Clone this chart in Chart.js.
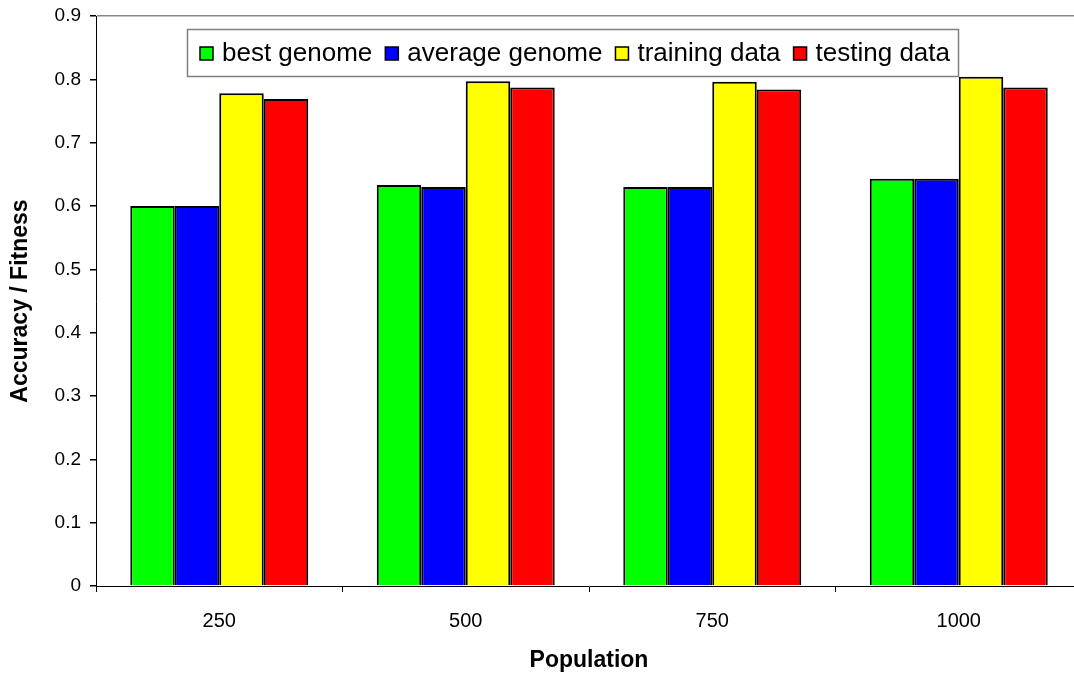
<!DOCTYPE html>
<html>
<head>
<meta charset="utf-8">
<script src="https://cdn.jsdelivr.net/npm/chart.js@4.4.1/dist/chart.umd.min.js"></script>
<style>
  html, body { margin: 0; padding: 0; background: #fff; }
  #frame { width: 1074px; height: 679px; overflow: hidden; position: relative; }
  #chart { position: absolute; left: 0; top: 0; }
</style>
</head>
<body>
<div id="frame"><canvas id="chart" width="1100" height="679"></canvas></div>
<script>
// Population sizes on the x axis
const populations = ['250', '500', '750', '1000'];
// Accuracy / fitness per population size
const bestGenome    = [0.600, 0.633, 0.630, 0.643];
const averageGenome = [0.600, 0.630, 0.630, 0.643];
const trainingData  = [0.778, 0.797, 0.796, 0.804];
const testingData   = [0.769, 0.787, 0.784, 0.787];
// Value axis labels
const yTickLabels = ['0', '0.1', '0.2', '0.3', '0.4', '0.5', '0.6', '0.7', '0.8', '0.9'];

const FONT = "'Liberation Sans', Arial, sans-serif";

// Boxed legend drawn inside the plot area, built from the datasets
const boxedLegend = {
  id: 'boxedLegend',
  afterDraw(chart, args, opts) {
    const ctx = chart.ctx;
    const x0 = opts.left, y0 = opts.top, w = opts.width, h = opts.height;
    ctx.save();
    ctx.fillStyle = '#ffffff';
    ctx.fillRect(x0, y0, w, h);
    ctx.strokeStyle = '#808080';
    ctx.lineWidth = 1.5;
    ctx.strokeRect(x0 + 0.5, y0 + 0.5, w, h);
    ctx.font = opts.fontSize + 'px ' + FONT;
    ctx.textBaseline = 'middle';
    ctx.fillStyle = '#000';
    const cy = y0 + h / 2 + 1;
    let x = x0 + opts.startPad;
    chart.data.datasets.forEach(ds => {
      const s = opts.box;
      ctx.fillStyle = ds.backgroundColor;
      ctx.fillRect(x, cy - s / 2, s, s);
      ctx.strokeStyle = '#000';
      ctx.lineWidth = 1.5;
      ctx.strokeRect(x, cy - s / 2, s, s);
      ctx.fillStyle = '#000';
      const tx = x + opts.textGap;
      ctx.fillText(ds.label, tx, cy);
      x = tx + ctx.measureText(ds.label).width + opts.itemGap;
    });
    ctx.restore();
  }
};

new Chart(document.getElementById('chart'), {
  type: 'bar',
  data: {
    labels: populations,
    datasets: [
      { label: 'best genome',    data: bestGenome,    backgroundColor: '#00ff00' },
      { label: 'average genome', data: averageGenome, backgroundColor: '#0000ff' },
      { label: 'training data',  data: trainingData,  backgroundColor: '#ffff00' },
      { label: 'testing data',   data: testingData,   backgroundColor: '#ff0000' }
    ]
  },
  options: {
    responsive: false,
    animation: false,
    devicePixelRatio: 1,
    layout: { padding: { left: 0, top: 16, right: 18, bottom: 0 } },
    datasets: {
      bar: {
        borderColor: '#000000',
        borderWidth: 2,
        barPercentage: 1.0,
        categoryPercentage: 0.722
      }
    },
    plugins: {
      legend: { display: false },
      tooltip: { enabled: false },
      boxedLegend: {
        left: 187, top: 29, width: 771, height: 47,
        fontSize: 26, box: 13, startPad: 13, textGap: 22, itemGap: 13
      }
    },
    scales: {
      x: {
        offset: true,
        grid: {
          offset: true,
          drawOnChartArea: false,
          tickLength: 6,
          tickColor: '#000',
          lineWidth: 1
        },
        border: { display: true, color: '#000', width: 1 },
        ticks: {
          color: '#000',
          padding: 17,
          font: { family: FONT, size: 20 },
          maxRotation: 0
        },
        title: {
          display: true,
          text: 'Population',
          color: '#000',
          font: { family: FONT, size: 23, weight: 'bold' },
          padding: { top: 0, bottom: 5 }
        },
        afterFit(scale) { scale.height = 93; }
      },
      y: {
        min: 0,
        max: 0.9,
        ticks: {
          stepSize: 0.1,
          color: '#000',
          padding: 9,
          font: { family: FONT, size: 19 },
          callback: (v, i) => yTickLabels[i]
        },
        grid: {
          color: ctx => (ctx.tick && Math.abs(ctx.tick.value - 0.9) < 1e-6) ? '#888888' : 'rgba(0,0,0,0)',
          lineWidth: 1.5,
          tickLength: 6,
          tickColor: '#000'
        },
        border: { display: true, color: '#000', width: 1 },
        title: {
          display: true,
          text: 'Accuracy / Fitness',
          color: '#000',
          font: { family: FONT, size: 23, weight: 'bold' },
          padding: { top: 7, bottom: 0 }
        },
        afterFit(scale) {
          scale.width = 96;
          scale.paddingTop = 0;
          scale.paddingBottom = 0;
        }
      }
    }
  },
  plugins: [boxedLegend]
});
</script>
</body>
</html>
